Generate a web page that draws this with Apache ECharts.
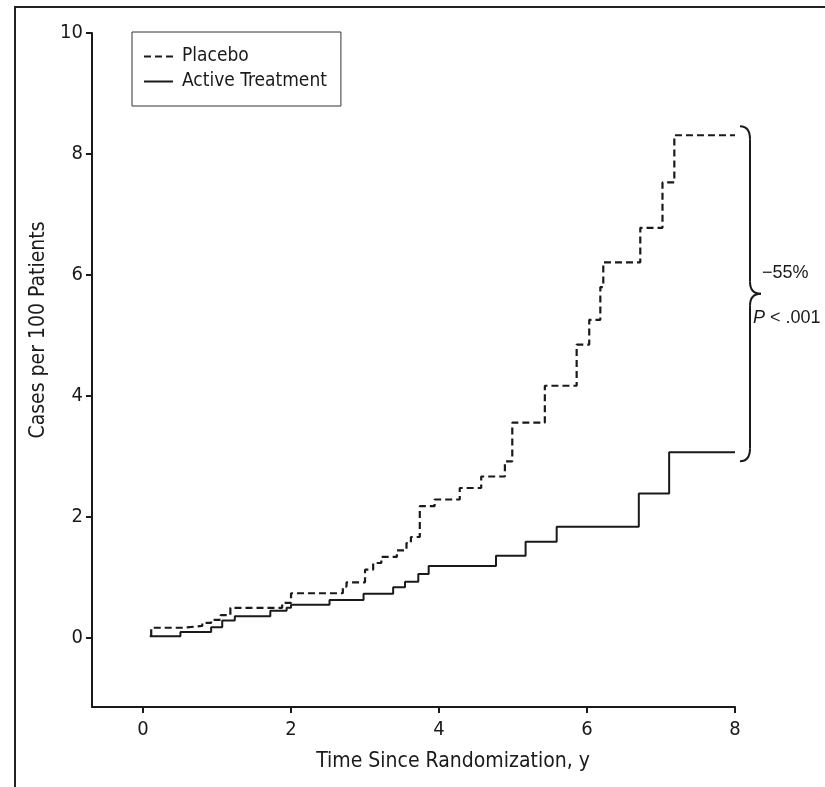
<!DOCTYPE html>
<html>
<head>
<meta charset="utf-8">
<script src="https://cdn.jsdelivr.net/npm/echarts@6/dist/echarts.min.js"></script>
<style>
  html, body { margin: 0; padding: 0; background: #fff; }
  #chart { width: 825px; height: 787px; }
</style>
</head>
<body>
<div id="chart"></div>
<script>
// axis ticks
const xTicks = [0, 2, 4, 6, 8];
const yTicks = [0, 2, 4, 6, 8, 10];

// cumulative incidence (step changes)
const placeboTimes = [0.11, 0.11, 0.55, 0.80, 0.92, 1.05, 1.18, 1.88, 2.00, 2.70, 2.75, 3.00, 3.11, 3.22,
  3.43, 3.56, 3.62, 3.74, 3.94, 4.28, 4.57, 4.89, 4.99, 5.43, 5.86, 6.03, 6.18, 6.22, 6.72, 7.02, 7.18, 8.00];
const placeboRates = [0.03, 0.17, 0.20, 0.25, 0.30, 0.38, 0.50, 0.58, 0.74, 0.85, 0.92, 1.13, 1.24, 1.34,
  1.45, 1.57, 1.67, 2.18, 2.29, 2.48, 2.67, 2.92, 3.56, 4.17, 4.85, 5.26, 5.80, 6.21, 6.78, 7.53, 8.31, 8.31];

const activeTimes = [0.09, 0.505, 0.92, 1.07, 1.24, 1.72, 1.94, 2.00, 2.52, 2.98, 3.38, 3.54, 3.72, 3.86,
  4.77, 5.17, 5.59, 6.70, 7.11, 8.00];
const activeRates = [0.03, 0.10, 0.18, 0.29, 0.36, 0.45, 0.50, 0.55, 0.63, 0.73, 0.84, 0.93, 1.06, 1.19,
  1.36, 1.59, 1.84, 2.39, 3.07, 3.07];

const reductionText = "\u221255%";
const pValueText = "< .001";

const NARROW = '"Liberation Sans Narrow", "DejaVu Sans Condensed", "Arial Narrow", sans-serif';
const PLAIN = '"Liberation Sans", Arial, sans-serif';
const INK = "#1a1a1a";

const placebo = placeboTimes.map((t, i) => [t, placeboRates[i]]);
const active = activeTimes.map((t, i) => [t, activeRates[i]]);

const chart = echarts.init(document.getElementById("chart"));

chart.setOption({
  backgroundColor: "#fff",
  animation: false,
  grid: { left: 92, right: 90, top: 33, bottom: 80 },
  legend: {
    orient: "vertical",
    left: 132,
    top: 32,
    padding: [15, 14, 15, 11],
    itemGap: 6,
    itemWidth: 29,
    itemHeight: 14,
    borderColor: "#333",
    borderWidth: 1,
    itemStyle: { opacity: 0 },
    textStyle: { fontFamily: NARROW, fontSize: 19, color: INK, padding: [0, 0, 0, 4] },
    data: ["Placebo", "Active Treatment"]
  },
  xAxis: {
    type: "value",
    min: -0.69,
    max: 8,
    name: "Time Since Randomization, y",
    nameLocation: "middle",
    nameGap: 44,
    nameTextStyle: { fontFamily: NARROW, fontSize: 21, color: INK, padding: [0, 0, 0, 79] },
    axisLine: { onZero: false, lineStyle: { color: INK, width: 2 } },
    axisTick: { length: 6, lineStyle: { color: INK, width: 2 }, customValues: xTicks },
    axisLabel: { margin: 13, fontFamily: NARROW, fontSize: 20, color: INK, customValues: xTicks },
    splitLine: { show: false }
  },
  yAxis: {
    type: "value",
    min: -1.14,
    max: 10,
    name: "Cases per 100 Patients",
    nameLocation: "middle",
    nameGap: 42,
    nameTextStyle: { fontFamily: NARROW, fontSize: 21, color: INK, padding: [0, 0, 0, 80] },
    axisLine: { show: true, onZero: false, lineStyle: { color: INK, width: 2 } },
    axisTick: { show: true, length: 6, lineStyle: { color: INK, width: 2 }, customValues: yTicks },
    axisLabel: { margin: 9, fontFamily: NARROW, fontSize: 20, color: INK, customValues: yTicks },
    splitLine: { show: false }
  },
  series: [
    {
      name: "Placebo",
      type: "line",
      step: "end",
      symbol: "none",
      data: placebo,
      lineStyle: { color: INK, width: 2.2, type: [7, 4] },
      itemStyle: { color: INK }
    },
    {
      name: "Active Treatment",
      type: "line",
      step: "end",
      symbol: "none",
      data: active,
      lineStyle: { color: INK, width: 2 },
      itemStyle: { color: INK }
    }
  ]
});

// brace between the two end values, placed from the axis scales
const last = (arr) => arr[arr.length - 1];
const topPt = chart.convertToPixel({ gridIndex: 0 }, [last(placeboTimes), last(placeboRates)]);
const botPt = chart.convertToPixel({ gridIndex: 0 }, [last(activeTimes), last(activeRates)]);
const x0 = topPt[0] + 5, x1 = x0 + 10, x2 = x0 + 21;
const yT = topPt[1] - 9, yB = botPt[1] + 9, yM = (yT + yB) / 2;
const braceStyle = { fill: null, stroke: INK, lineWidth: 2 };
const curve = (ax, ay, cx, cy, bx, by) => ({
  type: "bezierCurve", silent: true,
  shape: { x1: ax, y1: ay, cpx1: cx, cpy1: cy, x2: bx, y2: by }, style: braceStyle
});
const seg = (ax, ay, bx, by) => ({
  type: "line", silent: true, shape: { x1: ax, y1: ay, x2: bx, y2: by }, style: braceStyle
});

chart.setOption({
  graphic: [
    {
      type: "rect",
      silent: true,
      shape: { x: 15, y: 7, width: 1000, height: 1000 },
      style: { fill: null, stroke: "#222", lineWidth: 2 }
    },
    curve(x0, yT, x1, yT, x1, yT + 13),
    seg(x1, yT + 13, x1, yM - 12),
    curve(x1, yM - 12, x1, yM, x2, yM),
    curve(x2, yM, x1, yM, x1, yM + 12),
    seg(x1, yM + 12, x1, yB - 13),
    curve(x1, yB - 13, x1, yB, x0, yB),
    {
      type: "text",
      silent: true,
      x: x2 + 1,
      y: yM - 21,
      style: {
        text: reductionText,
        fontSize: 18,
        fontFamily: PLAIN,
        fill: INK,
        verticalAlign: "middle"
      }
    },
    {
      type: "text",
      silent: true,
      x: x1 + 3,
      y: yM + 24,
      style: {
        text: "{p|P}{r| " + pValueText + "}",
        verticalAlign: "middle",
        fill: INK,
        fontSize: 18,
        fontFamily: PLAIN,
        rich: {
          p: { fontStyle: "italic", fontSize: 18, fontFamily: PLAIN, fill: INK },
          r: { fontSize: 18, fontFamily: PLAIN, fill: INK }
        }
      }
    }
  ]
});
</script>
</body>
</html>
